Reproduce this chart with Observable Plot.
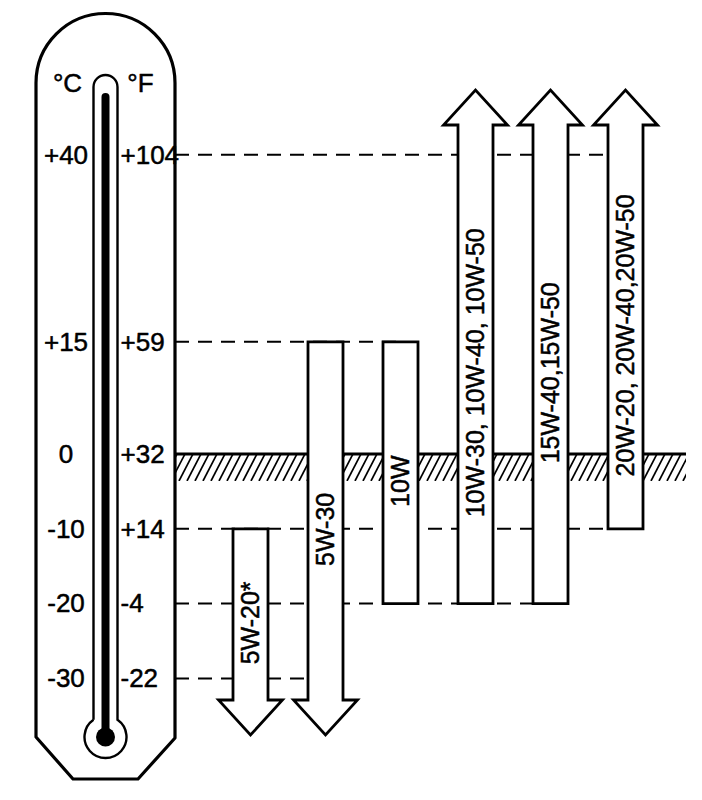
<!DOCTYPE html>
<html><head><meta charset="utf-8">
<script src="https://cdn.jsdelivr.net/npm/d3@7"></script>
<script src="https://cdn.jsdelivr.net/npm/@observablehq/plot@0.6"></script>
<style>html,body{margin:0;padding:0;background:#fff}#chart svg{display:block}</style>
</head><body><div id="chart"></div>
<script>
// ---- data ----
const celsiusTicks = [40, 15, 0, -10, -20, -30];
const celsiusLabels = ["+40", "+15", "0", "-10", "-20", "-30"];
const fahrenheitLabels = ["+104", "+59", "+32", "+14", "-4", "-22"];
const unitLabels = ["°C", "°F"];
const oils = ["5W-20*", "5W-30", "10W", "10W-30, 10W-40, 10W-50", "15W-40,15W-50", "20W-20, 20W-40,20W-50"];
const lowC = [null, null, -20, -20, -20, -10];   // null = open (arrow down)
const highC = [-10, 15, 15, null, null, null];   // null = open (arrow up)
// oil whose bar each dashed guide line runs to (null = no dashed line)
const dashTargets = ["20W-20, 20W-40,20W-50", "10W", null, "20W-20, 20W-40,20W-50", "15W-40,15W-50", "5W-30"];

// ---- layout ----
const W = 702, H = 800;
const yDomain = [-37.57, 48.66];
const yRange = [735, 90];
const headLen = 35, headHalf = 32;
const pxPerC = (yRange[0] - yRange[1]) / (yDomain[1] - yDomain[0]);
const headC = headLen / pxPerC;
const thermoRight = 175;
const groundRight = 686, groundDepth = 27;

const oilRows = oils.map((oil, i) => ({
  oil, low: lowC[i], high: highC[i],
  mid: ((lowC[i] ?? yDomain[0] + headC) + (highC[i] ?? yDomain[1] - headC)) / 2
}));

function thermometer() {
  const g = d3.create("svg:g").attr("fill", "none").attr("stroke", "black");
  g.append("path")
    .attr("d", "M36,737 L36,83 A69.5,69.5 0 0 1 175,83 L175,738 L138,779 L73,779 Z")
    .attr("stroke-width", 3.2).attr("stroke-linejoin", "round");
  const yj = 737 - Math.sqrt(21 * 21 - 12 * 12);
  g.append("path")
    .attr("d", `M93.5,${yj} L93.5,87 A12,12 0 0 1 117.5,87 L117.5,${yj} A21,21 0 1 1 93.5,${yj}`)
    .attr("stroke-width", 2.4);
  g.append("path")
    .attr("d", "M101.5,737 L101.5,97 A4,4 0 0 1 109.5,97 L109.5,737 Z")
    .attr("fill", "black").attr("stroke", "none");
  g.append("circle").attr("cx", 105.5).attr("cy", 737).attr("r", 9.5)
    .attr("fill", "black").attr("stroke", "none");
  return g.node();
}

function ground(index, scales) {
  const bw = scales.x.bandwidth ? scales.x.bandwidth() : 35;
  const g = d3.create("svg:g");
  celsiusTicks.forEach((t, i) => {
    const tgt = dashTargets[i];
    if (!tgt) return;
    const yy = scales.y(t);
    g.append("line").attr("x1", thermoRight).attr("x2", scales.x(tgt) + bw / 2)
      .attr("y1", yy).attr("y2", yy)
      .attr("stroke", "black").attr("stroke-width", 2).attr("stroke-dasharray", "14,9");
  });
  const y0 = scales.y(0);
  g.append("clipPath").attr("id", "hatch-clip").append("rect")
    .attr("x", thermoRight).attr("y", y0).attr("width", groundRight - thermoRight).attr("height", groundDepth);
  const hg = g.append("g").attr("clip-path", "url(#hatch-clip)").attr("stroke", "black").attr("stroke-width", 1.7);
  for (let x = thermoRight - 20; x < groundRight + 10; x += 8) {
    hg.append("line").attr("x1", x).attr("y1", y0 + groundDepth).attr("x2", x + 14).attr("y2", y0);
  }
  g.append("line").attr("x1", thermoRight).attr("x2", groundRight).attr("y1", y0).attr("y2", y0)
    .attr("stroke", "black").attr("stroke-width", 2.8);
  return g.node();
}

function oilBars(index, scales) {
  const bw = scales.x.bandwidth ? scales.x.bandwidth() : 35;
  const g = d3.create("svg:g").attr("fill", "white").attr("stroke", "black")
    .attr("stroke-width", 2.8).attr("stroke-linejoin", "miter");
  oilRows.forEach(r => {
    const cx = scales.x(r.oil) + bw / 2, h = bw / 2;
    const pts = [];
    if (r.high == null) {
      const tip = scales.y(yDomain[1]), base = tip + headLen;
      pts.push([cx - h, base], [cx - headHalf, base], [cx, tip], [cx + headHalf, base], [cx + h, base]);
    } else {
      const yt = scales.y(r.high);
      pts.push([cx - h, yt], [cx + h, yt]);
    }
    if (r.low == null) {
      const tip = scales.y(yDomain[0]), base = tip - headLen;
      pts.push([cx + h, base], [cx + headHalf, base], [cx, tip], [cx - headHalf, base], [cx - h, base]);
    } else {
      const yb = scales.y(r.low);
      pts.push([cx + h, yb], [cx - h, yb]);
    }
    g.append("path").attr("d", "M" + pts.map(p => p.join(",")).join("L") + "Z");
  });
  return g.node();
}

const textStyle = {fill: "black", stroke: "black", strokeWidth: 0.5};

const chart = Plot.plot({
  width: W, height: H,
  marginTop: 0, marginRight: 0, marginBottom: 0, marginLeft: 0,
  x: {type: "band", domain: oils, range: [192.6, 682.4], paddingInner: 0.538, paddingOuter: 0.5, axis: null},
  y: {domain: yDomain, range: yRange, axis: null},
  style: {fontFamily: "'Liberation Sans', Arial, Helvetica, sans-serif", background: "white", color: "black"},
  marks: [
    thermometer,
    ground,
    oilBars,
    Plot.text(oilRows, {x: "oil", y: "mid", text: "oil", rotate: -90, fontSize: 25, dy: 8, ...textStyle}),
    Plot.text(celsiusTicks, {y: d => d, text: (d, i) => celsiusLabels[i], frameAnchor: "left", dx: 65.5, textAnchor: "middle", fontSize: 26, ...textStyle}),
    Plot.text(celsiusTicks, {y: d => d, text: (d, i) => fahrenheitLabels[i], frameAnchor: "left", dx: 120, textAnchor: "start", fontSize: 26, ...textStyle}),
    Plot.text([unitLabels[0]], {text: d => d, frameAnchor: "top-left", dx: 67, dy: 73, textAnchor: "middle", fontSize: 26, ...textStyle}),
    Plot.text([unitLabels[1]], {text: d => d, frameAnchor: "top-left", dx: 140, dy: 73, textAnchor: "middle", fontSize: 26, ...textStyle})
  ]
});
document.getElementById("chart").appendChild(chart);
</script>
</body></html>
